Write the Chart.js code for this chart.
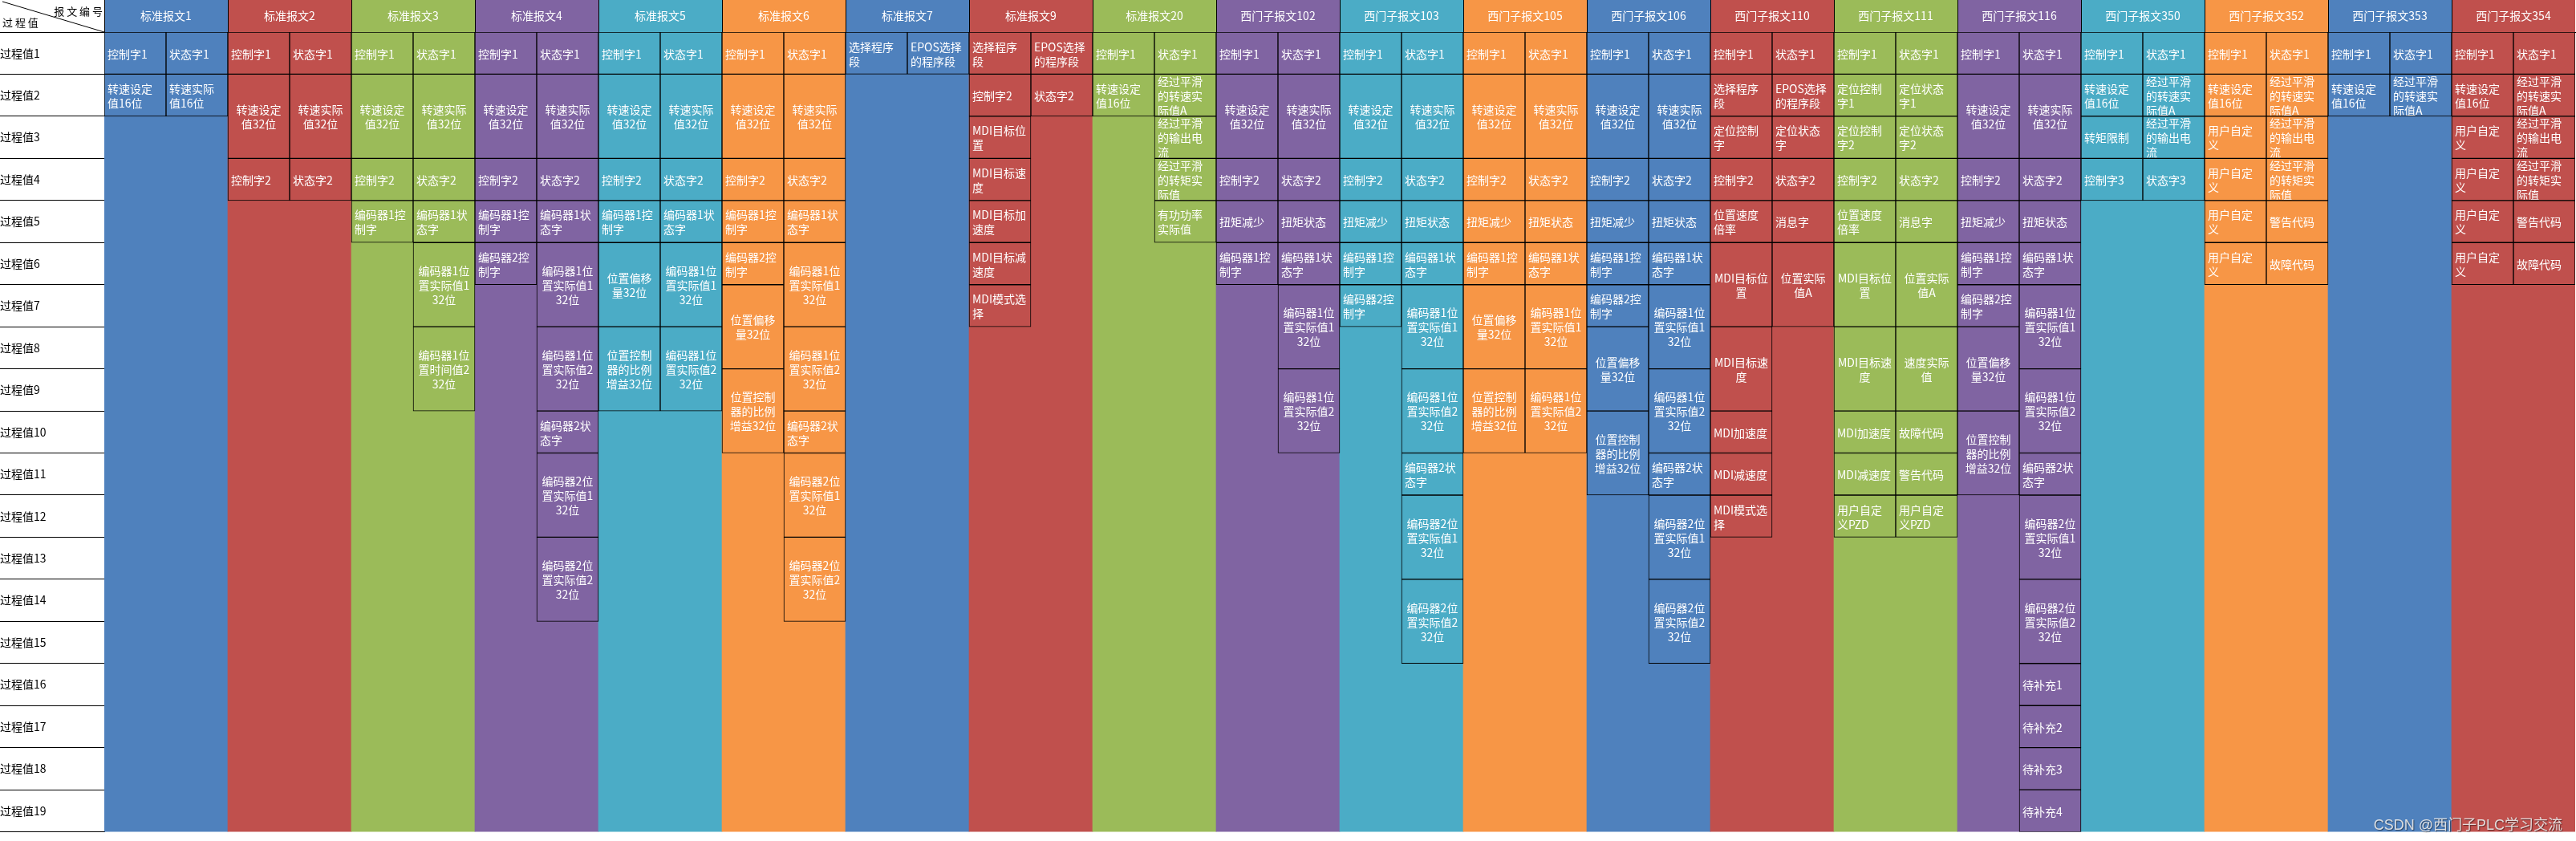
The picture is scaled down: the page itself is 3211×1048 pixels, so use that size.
<!DOCTYPE html>
<html lang="zh-CN">
<head>
<meta charset="utf-8">
<title>报文过程值分配</title>
<script src="https://cdn.jsdelivr.net/npm/chart.js@4.4.1/dist/chart.umd.min.js"></script>
<style>
  html, body { margin: 0; padding: 0; background: #fff; }
  #wrap { width: 3211px; height: 1048px; position: relative; }
</style>
</head>
<body>
<div id="wrap"><canvas id="telegramChart"></canvas></div>
<script>
// 报文编号 / 过程值
const telegrams = ['标准报文1', '标准报文2', '标准报文3', '标准报文4', '标准报文5', '标准报文6', '标准报文7',
  '标准报文9', '标准报文20', '西门子报文102', '西门子报文103', '西门子报文105', '西门子报文106',
  '西门子报文110', '西门子报文111', '西门子报文116', '西门子报文350', '西门子报文352',
  '西门子报文353', '西门子报文354'];
const processValues = ['过程值1', '过程值2', '过程值3', '过程值4', '过程值5', '过程值6', '过程值7',
  '过程值8', '过程值9', '过程值10', '过程值11', '过程值12', '过程值13', '过程值14', '过程值15',
  '过程值16', '过程值17', '过程值18', '过程值19'];

// 每个报文的两列内容（左：设定方向，右：反馈方向），[文字, 占几行]
const t1L = ['控制字1', '转速设定值16位'];
const t1R = ['状态字1', '转速实际值16位'];
const t2L = ['控制字1', ['转速设定值32位', 2], '控制字2'];
const t2R = ['状态字1', ['转速实际值32位', 2], '状态字2'];
const t3L = ['控制字1', ['转速设定值32位', 2], '控制字2', '编码器1控制字'];
const t3R = ['状态字1', ['转速实际值32位', 2], '状态字2', '编码器1状态字', ['编码器1位置实际值1 32位', 2], ['编码器1位置时间值2 32位', 2]];
const t4L = ['控制字1', ['转速设定值32位', 2], '控制字2', '编码器1控制字', '编码器2控制字'];
const t4R = ['状态字1', ['转速实际值32位', 2], '状态字2', '编码器1状态字', ['编码器1位置实际值1 32位', 2], ['编码器1位置实际值2 32位', 2], '编码器2状态字', ['编码器2位置实际值1 32位', 2], ['编码器2位置实际值2 32位', 2]];
const t5L = ['控制字1', ['转速设定值32位', 2], '控制字2', '编码器1控制字', ['位置偏移量32位', 2], ['位置控制器的比例增益32位', 2]];
const t5R = ['状态字1', ['转速实际值32位', 2], '状态字2', '编码器1状态字', ['编码器1位置实际值1 32位', 2], ['编码器1位置实际值2 32位', 2]];
const t6L = ['控制字1', ['转速设定值32位', 2], '控制字2', '编码器1控制字', '编码器2控制字', ['位置偏移量32位', 2], ['位置控制器的比例增益32位', 2]];
const t6R = ['状态字1', ['转速实际值32位', 2], '状态字2', '编码器1状态字', ['编码器1位置实际值1 32位', 2], ['编码器1位置实际值2 32位', 2], '编码器2状态字', ['编码器2位置实际值1 32位', 2], ['编码器2位置实际值2 32位', 2]];
const t7L = ['选择程序段'];
const t7R = ['EPOS选择的程序段'];
const t9L = ['选择程序段', '控制字2', 'MDI目标位置', 'MDI目标速度', 'MDI目标加速度', 'MDI目标减速度', 'MDI模式选择'];
const t9R = ['EPOS选择的程序段', '状态字2'];
const t20L = ['控制字1', '转速设定值16位'];
const t20R = ['状态字1', '经过平滑的转速实际值A', '经过平滑的输出电流', '经过平滑的转矩实际值', '有功功率实际值'];
const t102L = ['控制字1', ['转速设定值32位', 2], '控制字2', '扭矩减少', '编码器1控制字'];
const t102R = ['状态字1', ['转速实际值32位', 2], '状态字2', '扭矩状态', '编码器1状态字', ['编码器1位置实际值1 32位', 2], ['编码器1位置实际值2 32位', 2]];
const t103L = ['控制字1', ['转速设定值32位', 2], '控制字2', '扭矩减少', '编码器1控制字', '编码器2控制字'];
const t103R = ['状态字1', ['转速实际值32位', 2], '状态字2', '扭矩状态', '编码器1状态字', ['编码器1位置实际值1 32位', 2], ['编码器1位置实际值2 32位', 2], '编码器2状态字', ['编码器2位置实际值1 32位', 2], ['编码器2位置实际值2 32位', 2]];
const t105L = ['控制字1', ['转速设定值32位', 2], '控制字2', '扭矩减少', '编码器1控制字', ['位置偏移量32位', 2], ['位置控制器的比例增益32位', 2]];
const t105R = ['状态字1', ['转速实际值32位', 2], '状态字2', '扭矩状态', '编码器1状态字', ['编码器1位置实际值1 32位', 2], ['编码器1位置实际值2 32位', 2]];
const t106L = ['控制字1', ['转速设定值32位', 2], '控制字2', '扭矩减少', '编码器1控制字', '编码器2控制字', ['位置偏移量32位', 2], ['位置控制器的比例增益32位', 2]];
const t106R = ['状态字1', ['转速实际值32位', 2], '状态字2', '扭矩状态', '编码器1状态字', ['编码器1位置实际值1 32位', 2], ['编码器1位置实际值2 32位', 2], '编码器2状态字', ['编码器2位置实际值1 32位', 2], ['编码器2位置实际值2 32位', 2]];
const t110L = ['控制字1', '选择程序段', '定位控制字', '控制字2', '位置速度倍率', ['MDI目标位置', 2], ['MDI目标速度', 2], 'MDI加速度', 'MDI减速度', 'MDI模式选择'];
const t110R = ['状态字1', 'EPOS选择的程序段', '定位状态字', '状态字2', '消息字', ['位置实际值A', 2]];
const t111L = ['控制字1', '定位控制字1', '定位控制字2', '控制字2', '位置速度倍率', ['MDI目标位置', 2], ['MDI目标速度', 2], 'MDI加速度', 'MDI减速度', '用户自定义PZD'];
const t111R = ['状态字1', '定位状态字1', '定位状态字2', '状态字2', '消息字', ['位置实际值A', 2], ['速度实际值', 2], '故障代码', '警告代码', '用户自定义PZD'];
const t116L = ['控制字1', ['转速设定值32位', 2], '控制字2', '扭矩减少', '编码器1控制字', '编码器2控制字', ['位置偏移量32位', 2], ['位置控制器的比例增益32位', 2]];
const t116R = ['状态字1', ['转速实际值32位', 2], '状态字2', '扭矩状态', '编码器1状态字', ['编码器1位置实际值1 32位', 2], ['编码器1位置实际值2 32位', 2], '编码器2状态字', ['编码器2位置实际值1 32位', 2], ['编码器2位置实际值2 32位', 2], '待补充1', '待补充2', '待补充3', '待补充4'];
const t350L = ['控制字1', '转速设定值16位', '转矩限制', '控制字3'];
const t350R = ['状态字1', '经过平滑的转速实际值A', '经过平滑的输出电流', '状态字3'];
const t352L = ['控制字1', '转速设定值16位', '用户自定义', '用户自定义', '用户自定义', '用户自定义'];
const t352R = ['状态字1', '经过平滑的转速实际值A', '经过平滑的输出电流', '经过平滑的转矩实际值', '警告代码', '故障代码'];
const t353L = ['控制字1', '转速设定值16位'];
const t353R = ['状态字1', '经过平滑的转速实际值A'];
const t354L = ['控制字1', '转速设定值16位', '用户自定义', '用户自定义', '用户自定义', '用户自定义'];
const t354R = ['状态字1', '经过平滑的转速实际值A', '经过平滑的输出电流', '经过平滑的转矩实际值', '警告代码', '故障代码'];

const leftCols = [t1L, t2L, t3L, t4L, t5L, t6L, t7L, t9L, t20L, t102L, t103L, t105L, t106L, t110L, t111L, t116L, t350L, t352L, t353L, t354L];
const rightCols = [t1R, t2R, t3R, t4R, t5R, t6R, t7R, t9R, t20R, t102R, t103R, t105R, t106R, t110R, t111R, t116R, t350R, t352R, t353R, t354R];

// Excel 默认配色，按报文轮流使用
const palette = ['#4F81BD', '#C0504D', '#9BBB59', '#8064A2', '#4BACC6', '#F79646'];
const FONT = '"Noto Sans CJK SC", "Noto Sans", sans-serif';

const subCols = [];
telegrams.forEach(t => { subCols.push(t + ' 设定'); subCols.push(t + ' 反馈'); });

const cells = [];
const cellColors = [];
leftCols.forEach((col, m) => {
  [col, rightCols[m]].forEach((list, s) => {
    let r = 0;
    list.forEach(item => {
      const text = Array.isArray(item) ? item[0] : item;
      const span = Array.isArray(item) ? item[1] : 1;
      cells.push({ x: subCols[2 * m + s], y: [r, r + span], text: text, span: span });
      cellColors.push(palette[m % 6]);
      r += span;
    });
  });
});

const columnBg = telegrams.map(t => ({ x: t, y: [0, processValues.length] }));
const columnColors = telegrams.map((t, m) => palette[m % 6]);

// 按宽度折行：汉字算1，字母数字算0.5，每行最多4.5
function wrapText(text) {
  const lines = [];
  let cur = '', w = 0;
  for (const ch of text) {
    const cw = ch.charCodeAt(0) > 255 ? 1 : 0.5;
    if (ch === ' ') {
      if (cur) { lines.push(cur); cur = ''; w = 0; }
      continue;
    }
    if (w + cw > 4.5) { lines.push(cur); cur = ''; w = 0; }
    cur += ch; w += cw;
  }
  if (cur) lines.push(cur);
  return lines;
}

const headerPlugin = {
  id: 'header',
  beforeDraw(chart) {
    const ctx = chart.ctx;
    const x2 = chart.scales.x2;
    const half = (x2.getPixelForValue(1) - x2.getPixelForValue(0)) / 2;
    ctx.save();
    telegrams.forEach((t, m) => {
      const cx = x2.getPixelForValue(m);
      ctx.fillStyle = palette[m % 6];
      ctx.fillRect(cx - half, x2.top, half * 2, x2.bottom - x2.top);
    });
    ctx.strokeStyle = '#000';
    ctx.lineWidth = 1;
    telegrams.forEach((t, m) => {
      const bx = Math.round(x2.getPixelForValue(m) - half) + 0.5;
      ctx.beginPath();
      ctx.moveTo(bx, x2.top);
      ctx.lineTo(bx, x2.bottom);
      ctx.stroke();
    });
    ctx.restore();
  },
  afterDraw(chart) {
    const ctx = chart.ctx;
    const x2 = chart.scales.x2;
    const yl = chart.scales.yl;
    ctx.save();
    // 左上角斜线表头
    ctx.strokeStyle = '#000';
    ctx.lineWidth = 1;
    ctx.beginPath();
    ctx.moveTo(yl.left + 3, x2.top + 2);
    ctx.lineTo(yl.right, x2.bottom);
    ctx.stroke();
    ctx.fillStyle = '#000';
    ctx.font = '13px ' + FONT;
    ctx.textBaseline = 'middle';
    ctx.textAlign = 'right';
    ctx.fillText('报 文 编 号', yl.right - 2, x2.top + 14);
    ctx.textAlign = 'left';
    ctx.fillText('过 程 值', yl.left + 3, x2.top + 28);

    // 水印
    ctx.font = '18px "Liberation Sans", "Noto Sans CJK SC", sans-serif';
    ctx.textAlign = 'right';
    ctx.textBaseline = 'alphabetic';
    ctx.shadowColor = 'rgba(0,0,0,0.55)';
    ctx.shadowOffsetX = 1;
    ctx.shadowOffsetY = 1;
    ctx.shadowBlur = 1;
    ctx.fillStyle = 'rgba(235,235,235,0.9)';
    ctx.fillText('CSDN @西门子PLC学习交流', 3194, 1034);
    ctx.restore();
  }
};

const cellTextPlugin = {
  id: 'cellText',
  afterDatasetsDraw(chart) {
    const ctx = chart.ctx;
    const meta = chart.getDatasetMeta(0);
    const data = chart.data.datasets[0].data;
    const lineH = 18;
    ctx.save();
    ctx.font = '14px ' + FONT;
    ctx.fillStyle = '#fff';
    ctx.textBaseline = 'middle';
    meta.data.forEach((bar, i) => {
      const p = bar.getProps(['x', 'y', 'base', 'width'], true);
      const top = Math.min(p.y, p.base), bottom = Math.max(p.y, p.base);
      const left = p.x - p.width / 2;
      const lines = wrapText(data[i].text);
      const cy = (top + bottom) / 2 - (lines.length - 1) * lineH / 2;
      ctx.save();
      ctx.beginPath();
      ctx.rect(left + 1, top + 1, p.width - 2, bottom - top - 2);
      ctx.clip();
      ctx.textAlign = data[i].span > 1 ? 'center' : 'left';
      const tx = data[i].span > 1 ? p.x : left + 4;
      lines.forEach((ln, k) => ctx.fillText(ln, tx, cy + k * lineH + 1));
      ctx.restore();
    });
    ctx.restore();
  }
};

new Chart(document.getElementById('telegramChart'), {
  type: 'bar',
  data: {
    datasets: [{
      label: '过程值',
      data: cells,
      xAxisID: 'x',
      yAxisID: 'y',
      backgroundColor: cellColors,
      borderColor: '#000',
      borderWidth: 1,
      borderSkipped: false,
      grouped: false,
      barPercentage: 1,
      categoryPercentage: 1
    }, {
      label: '报文',
      data: columnBg,
      xAxisID: 'x2',
      yAxisID: 'y',
      backgroundColor: columnColors,
      borderWidth: 0,
      grouped: false,
      barPercentage: 1,
      categoryPercentage: 1
    }]
  },
  options: {
    responsive: true,
    maintainAspectRatio: false,
    animation: false,
    devicePixelRatio: 1,
    layout: { padding: { top: 0, left: 0, right: 1, bottom: 0 } },
    plugins: {
      legend: { display: false },
      tooltip: { enabled: false }
    },
    scales: {
      x: { type: 'category', labels: subCols, offset: true, display: false },
      x2: {
        type: 'category',
        labels: telegrams,
        position: 'top',
        offset: true,
        grid: { display: false, drawTicks: false },
        border: { display: true, color: '#000', width: 1 },
        ticks: {
          color: '#fff',
          font: { size: 14, family: FONT },
          padding: 12,
          autoSkip: false,
          maxRotation: 0
        },
        afterFit(scale) { scale.height = 40; }
      },
      y: { type: 'linear', min: 0, max: processValues.length, reverse: true, display: false },
      yl: {
        type: 'category',
        labels: processValues,
        position: 'left',
        offset: true,
        grid: {
          offset: true,
          drawOnChartArea: false,
          drawTicks: true,
          tickLength: 130,
          color: '#000',
          lineWidth: 1
        },
        border: { display: true, color: '#000', width: 1 },
        ticks: {
          color: '#000',
          font: { size: 14, family: FONT },
          crossAlign: 'far',
          autoSkip: false
        },
        afterFit(scale) { scale.width = 130; }
      }
    }
  },
  plugins: [headerPlugin, cellTextPlugin]
});
</script>
</body>
</html>
